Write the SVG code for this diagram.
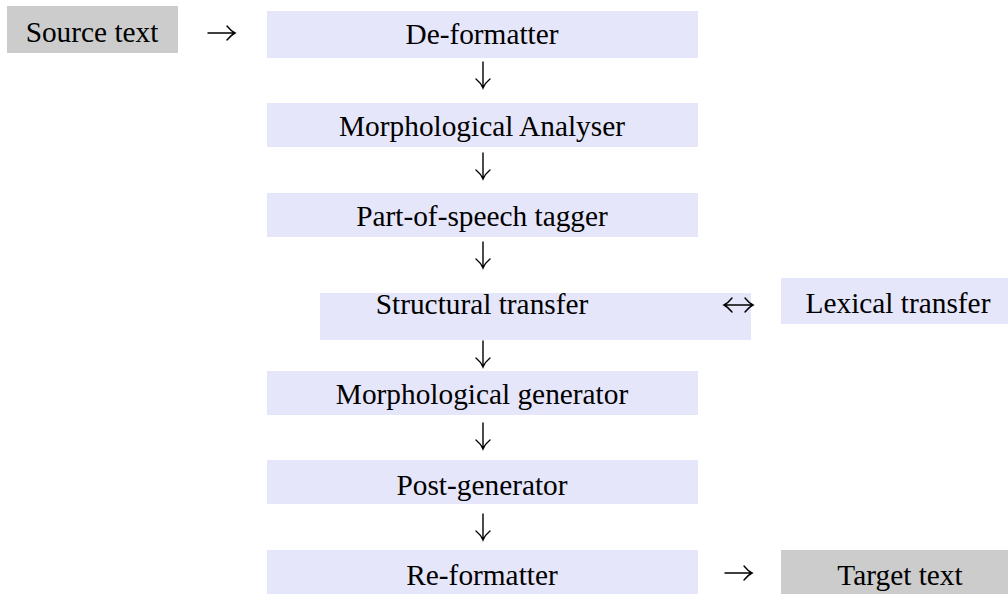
<svg xmlns="http://www.w3.org/2000/svg" width="1008" height="594" viewBox="0 0 1008 594">
<style>
text{font-family:"Liberation Serif","Times New Roman",serif;font-size:29.33px;fill:#000}
.m{text-anchor:middle}
.p{fill:#e6e6fa}
.g{fill:#cccccc}
.a{fill:none;stroke:#000;stroke-width:1.4;stroke-linecap:round}
</style>
<defs>
<path id="dn" class="a" d="M0,0V26M-7,17Q-2,21 0,26Q2,21 7,17"/>
<path id="rt" class="a" d="M0,0H27M19,-7Q23,-2 27,0Q23,2 19,7"/>
<path id="lr" class="a" d="M0,0H29M21,-7Q25,-2 29,0Q25,2 21,7M8,-7Q4,-2 0,0Q4,2 8,7"/>
</defs>
<rect width="1008" height="594" fill="#fff"/>
<g id="source"><rect class="g" x="7" y="6" width="171" height="47"/><text class="m" x="92" y="42">Source text</text></g>
<g id="deformatter"><rect class="p" x="267" y="11" width="431" height="47"/><text class="m" x="482" y="44">De-formatter</text></g>
<g id="analyser"><rect class="p" x="267" y="103" width="431" height="44"/><text class="m" x="482" y="136">Morphological Analyser</text></g>
<g id="tagger"><rect class="p" x="267" y="193" width="431" height="44"/><text class="m" x="482" y="226">Part-of-speech tagger</text></g>
<g id="structural"><rect class="p" x="320" y="293" width="431" height="47"/><text class="m" x="482" y="314">Structural transfer</text></g>
<g id="lexical"><rect class="p" x="781" y="278" width="227" height="46"/><text class="m" x="898" y="313">Lexical transfer</text></g>
<g id="generator"><rect class="p" x="267" y="371" width="431" height="44"/><text class="m" x="482" y="404">Morphological generator</text></g>
<g id="postgen"><rect class="p" x="267" y="460" width="431" height="44"/><text class="m" x="482" y="495">Post-generator</text></g>
<g id="reformatter"><rect class="p" x="267" y="550" width="431" height="44"/><text class="m" x="482" y="585">Re-formatter</text></g>
<g id="target"><rect class="g" x="781" y="550" width="227" height="44"/><text class="m" x="900" y="585">Target text</text></g>
<g id="connectors">
<use href="#rt" x="208" y="33"/>
<use href="#dn" x="483" y="62"/>
<use href="#dn" x="483" y="153"/>
<use href="#dn" x="483" y="242"/>
<use href="#dn" x="483" y="341"/>
<use href="#dn" x="483" y="423"/>
<use href="#dn" x="483" y="514"/>
<use href="#lr" x="724" y="305"/>
<use href="#rt" x="725" y="573"/>
</g>
</svg>
